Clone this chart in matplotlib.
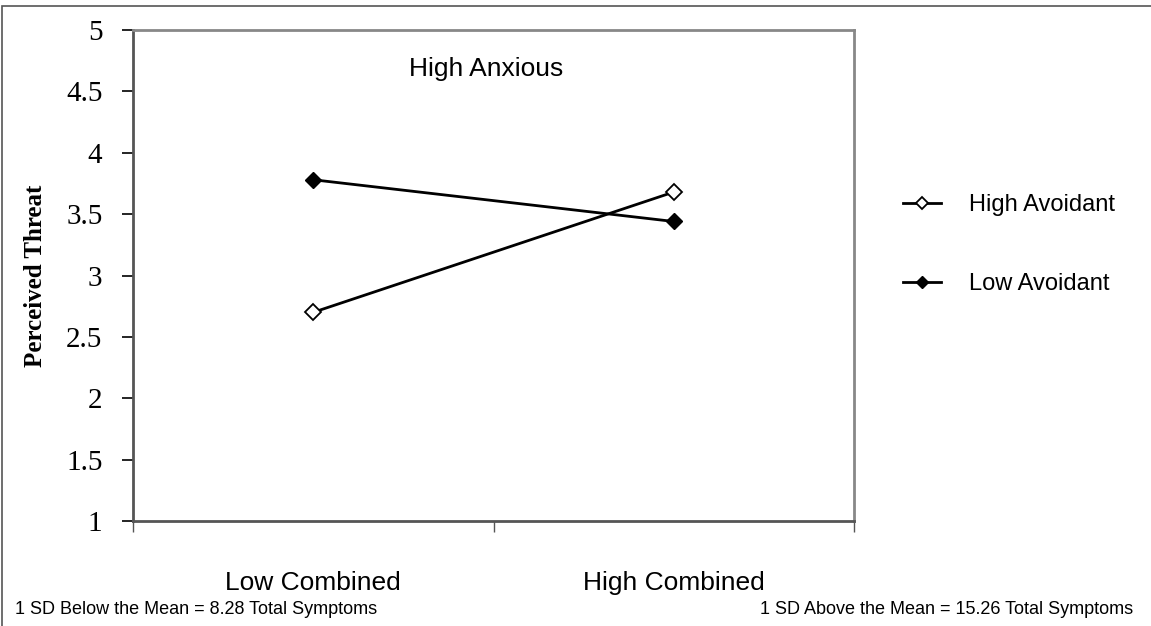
import matplotlib.pyplot as plt
from matplotlib.patches import Rectangle

# data
groups = ["Low Combined", "High Combined"]
high_avoidant = [2.70, 3.68]
low_avoidant = [3.78, 3.44]
y_ticks = [1, 1.5, 2, 2.5, 3, 3.5, 4, 4.5, 5]
y_labels = ["1", "1.5", "2", "2.5", "3", "3.5", "4", "4.5", "5"]

fig = plt.figure(figsize=(11.51, 6.26), dpi=100)

# outer frame
fig.patches.append(Rectangle((2/1151, -0.01), 1.02, 1 - 6/626 + 0.01,
                             transform=fig.transFigure, fill=False,
                             edgecolor="#555555", lw=1.2))

ax = fig.add_axes([133/1151, 1 - 521/626, 721/1151, 491/626])

xpos = [0.5, 1.5]
ax.plot(xpos, high_avoidant, color="black", lw=2, marker="D", ms=8,
        mfc="white", mec="black", mew=1.3, label="High Avoidant")
ax.plot(xpos, low_avoidant, color="black", lw=2, marker="D", ms=8,
        mfc="black", mec="black", label="Low Avoidant")

ax.set_xlim(0, 2)
ax.set_ylim(1, 5)
ax.set_xticks([0, 1, 2])
ax.set_xticklabels([])
ax.set_xticks(xpos, minor=True)
ax.set_xticklabels(groups, minor=True, fontsize=19, family="Liberation Sans")
ax.tick_params(axis="x", which="minor", length=0, pad=36)
ax.tick_params(axis="x", which="major", length=8, width=1, color="#555555")
ax.set_yticks(y_ticks)
ax.set_yticklabels(y_labels, fontsize=21, family="Liberation Serif")
ax.tick_params(axis="y", length=8, width=1.2, color="black", pad=14)

for s in ax.spines.values():
    s.set_color("#888888")
    s.set_linewidth(2)
ax.spines["left"].set_color("#555555")
ax.spines["bottom"].set_color("#555555")

ax.set_ylabel("Perceived Threat", fontsize=18, fontweight="bold",
              family="Liberation Serif")
ax.yaxis.set_label_coords((47 - 133) / 721, 0.5)
ax.text(0.49, 0.92, "High Anxious", transform=ax.transAxes, ha="center",
        va="center", fontsize=19, family="Liberation Sans")

leg = fig.legend(loc="upper left", bbox_to_anchor=(882/1151, 1 - 173/626),
                 frameon=False, labelspacing=2.4,
                 handlelength=1.6, handletextpad=1.2,
                 prop={"family": "Liberation Sans", "size": 17})
for h in leg.legend_handles:
    h.set_markersize(6)
    h.set_linewidth(2)

fig.text(15/1151, 1 - 609/626, "1 SD Below the Mean = 8.28 Total Symptoms",
         ha="left", va="center", fontsize=13, family="Liberation Sans")
fig.text(1133/1151, 1 - 609/626, "1 SD Above the Mean = 15.26 Total Symptoms",
         ha="right", va="center", fontsize=13, family="Liberation Sans")

fig.savefig("out.png", dpi=100)
